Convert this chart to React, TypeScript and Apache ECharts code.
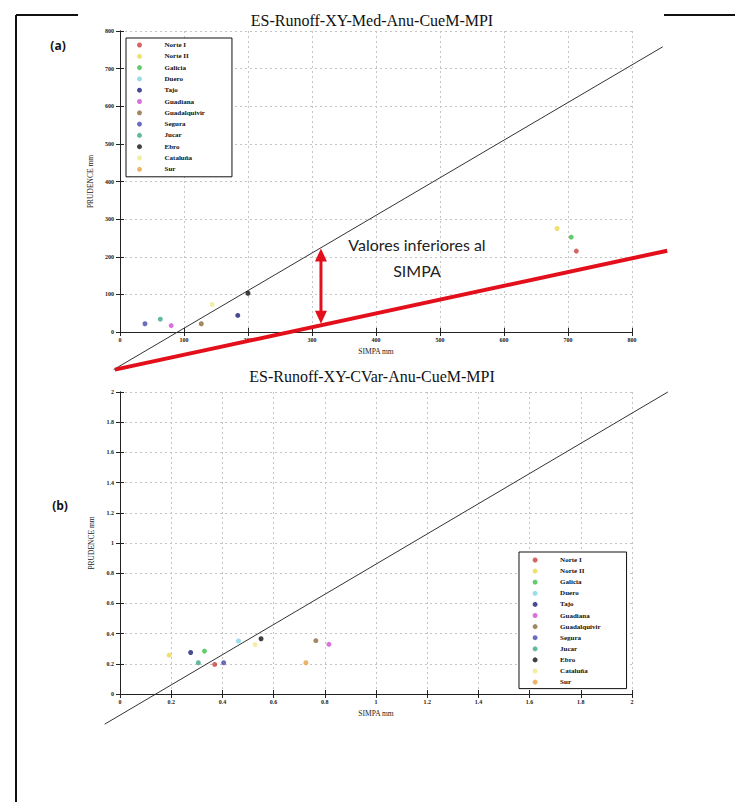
import React, { useEffect, useRef } from "react";
import * as echarts from "echarts";

// Basins (legend order)
const basins = [
  "Norte I", "Norte II", "Galicia", "Duero", "Tajo", "Guadiana",
  "Guadalquivir", "Segura", "Jucar", "Ebro", "Cataluña", "Sur",
];
const basinColors = [
  "#c8403c", "#ecd84a", "#3cbf4a", "#7fd3e6", "#1e1e78", "#d050d0",
  "#8a6a3a", "#4848b0", "#3aa88a", "#111111", "#f0ea90", "#e8a040",
];

// (a) mean annual runoff, mm  (null = not visible in the figure)
const medSimpa = [713, 683, 705, null, 184, 80, 127, 39, 63, 200, 144, null];
const medPrudence = [215, 275, 252, null, 44, 17, 22, 22, 34, 103, 73, null];

// (b) coefficient of variation of annual runoff
const cvSimpa = [0.37, 0.192, 0.33, 0.463, 0.276, 0.816, 0.765, 0.405, 0.306, 0.551, 0.528, 0.726];
const cvPrudence = [0.196, 0.257, 0.284, 0.351, 0.275, 0.329, 0.353, 0.207, 0.207, 0.366, 0.327, 0.207];

// axis ranges [min, max, interval]
const medRange = [0, 800, 100];
const cvRange = [0, 2, 0.2];

// reference lines (data coordinates: [x, y] start, [x, y] end)
const medRefLine = [[-10, -100], [848, 758]];
const medLowLine = [[-8, -100], [855, 216]];
const medGapArrow = [[314, 222], [314, 22]];
const cvRefLine = [[-0.06, -0.2], [2.14, 2.0]];

const titleA = "ES-Runoff-XY-Med-Anu-CueM-MPI";
const titleB = "ES-Runoff-XY-CVar-Anu-CueM-MPI";
const xName = "SIMPA mm";
const yName = "PRUDENCE mm";
const noteLines = ["Valores inferiores al", "SIMPA"];

const SERIF = "Liberation Serif";
const RED = "#e3101c";

function mainAxis(gridIndex: number, range: number[], pos: string, isX: boolean) {
  return {
    type: "value",
    gridIndex,
    position: pos,
    min: range[0],
    max: range[1],
    interval: range[2],
    name: isX ? xName : yName,
    nameLocation: "middle",
    nameGap: isX ? 15 : 17,
    nameTextStyle: { fontFamily: SERIF, fontSize: 7.5, color: "#222" },
    axisLine: { show: true, lineStyle: { color: "#222", width: 1 } },
    axisTick: { show: true, inside: true, length: 4, lineStyle: { color: "#222" } },
    axisLabel: {
      show: true,
      fontFamily: SERIF,
      fontSize: 6,
      fontWeight: "bold",
      color: "#222",
      margin: isX ? 5 : 6,
    },
    splitLine: { show: true, lineStyle: { color: "#c4c4c4", type: [2, 3], width: 1 } },
  };
}

function boxAxis(gridIndex: number, range: number[], pos: string) {
  return {
    type: "value",
    gridIndex,
    position: pos,
    min: range[0],
    max: range[1],
    interval: range[2],
    axisLine: { show: true, lineStyle: { color: "#222", width: 1 } },
    axisTick: { show: true, inside: true, length: 4, lineStyle: { color: "#222" } },
    axisLabel: { show: false },
    splitLine: { show: false },
  };
}

function legendFor(left: number, top: number, padding: number[], gap: number) {
  return {
    data: basins,
    orient: "vertical",
    left,
    top,
    itemWidth: 40,
    itemHeight: 5,
    itemGap: gap,
    padding,
    selectedMode: false,
    borderColor: "#111",
    borderWidth: 1,
    backgroundColor: "#fff",
    textStyle: { fontFamily: SERIF, fontSize: 7, fontWeight: "bold", color: "#111", lineHeight: 9 },
  };
}

// straight segment drawn through the axes' scales, not clipped to the plot
function segmentSeries(xi: number, yi: number, seg: number[][], color: string, width: number, z: number) {
  return {
    type: "custom",
    xAxisIndex: xi,
    yAxisIndex: yi,
    clip: false,
    silent: true,
    z,
    encode: { x: [0, 2], y: [1, 3] },
    data: [[seg[0][0], seg[0][1], seg[1][0], seg[1][1]]],
    renderItem: (_p: any, api: any) => {
      const a = api.coord([api.value(0), api.value(1)]);
      const b = api.coord([api.value(2), api.value(3)]);
      return {
        type: "line",
        shape: { x1: a[0], y1: a[1], x2: b[0], y2: b[1] },
        style: { stroke: color, lineWidth: width, fill: null },
      };
    },
  };
}

function arrowSeries(xi: number, yi: number, seg: number[][]) {
  return {
    type: "custom",
    xAxisIndex: xi,
    yAxisIndex: yi,
    clip: false,
    silent: true,
    z: 6,
    encode: { x: [0, 2], y: [1, 3] },
    data: [[seg[0][0], seg[0][1], seg[1][0], seg[1][1]]],
    renderItem: (_p: any, api: any) => {
      const a = api.coord([api.value(0), api.value(1)]);
      const b = api.coord([api.value(2), api.value(3)]);
      const dx = b[0] - a[0];
      const dy = b[1] - a[1];
      const len = Math.hypot(dx, dy) || 1;
      const ux = dx / len;
      const uy = dy / len;
      const px = -uy;
      const py = ux;
      const hl = 13;
      const hw = 6;
      return {
        type: "group",
        children: [
          {
            type: "line",
            shape: { x1: a[0] + ux * hl * 0.7, y1: a[1] + uy * hl * 0.7, x2: b[0] - ux * hl * 0.7, y2: b[1] - uy * hl * 0.7 },
            style: { stroke: RED, lineWidth: 3 },
          },
          {
            type: "polygon",
            shape: {
              points: [
                [a[0], a[1]],
                [a[0] + ux * hl + px * hw, a[1] + uy * hl + py * hw],
                [a[0] + ux * hl - px * hw, a[1] + uy * hl - py * hw],
              ],
            },
            style: { fill: RED },
          },
          {
            type: "polygon",
            shape: {
              points: [
                [b[0], b[1]],
                [b[0] - ux * hl + px * hw, b[1] - uy * hl + py * hw],
                [b[0] - ux * hl - px * hw, b[1] - uy * hl - py * hw],
              ],
            },
            style: { fill: RED },
          },
        ],
      };
    },
  };
}

export default function App() {
  const ref = useRef<HTMLDivElement>(null);

  useEffect(() => {
    if (!ref.current) return;
    const chart = echarts.init(ref.current, null, { renderer: "svg" });

    const scatterA = basins.map((name, i) => ({
      name,
      type: "scatter",
      xAxisIndex: 0,
      yAxisIndex: 0,
      symbol: "circle",
      symbolSize: 5,
      itemStyle: { color: basinColors[i] },
      data: medSimpa[i] == null ? [] : [[medSimpa[i], medPrudence[i]]],
      z: 5,
    }));
    const scatterB = basins.map((name, i) => ({
      name,
      type: "scatter",
      xAxisIndex: 2,
      yAxisIndex: 2,
      symbol: "circle",
      symbolSize: 5,
      itemStyle: { color: basinColors[i] },
      data: [[cvSimpa[i], cvPrudence[i]]],
      z: 5,
    }));

    const option: any = {
      animation: false,
      backgroundColor: "#fff",
      grid: [
        { left: 120, top: 31, width: 512, height: 301 },
        { left: 120, top: 392, width: 512, height: 302 },
      ],
      xAxis: [
        mainAxis(0, medRange, "bottom", true),
        boxAxis(0, medRange, "top"),
        mainAxis(1, cvRange, "bottom", true),
        boxAxis(1, cvRange, "top"),
      ],
      yAxis: [
        mainAxis(0, medRange, "left", false),
        boxAxis(0, medRange, "right"),
        mainAxis(1, cvRange, "left", false),
        boxAxis(1, cvRange, "right"),
      ],
      legend: [
        legendFor(126, 38, [2.5, 27, 3, 11], 2.3),
        legendFor(519, 552, [3.5, 26, 2, 13.6], 2.1),
      ],
      series: [
        segmentSeries(0, 0, medRefLine, "#333", 1, 3),
        segmentSeries(0, 0, medLowLine, RED, 4, 4),
        arrowSeries(0, 0, medGapArrow),
        segmentSeries(2, 2, cvRefLine, "#333", 1, 3),
        ...scatterA,
        ...scatterB,
      ],
      graphic: [
        { type: "line", shape: { x1: 16, y1: 15, x2: 16, y2: 802 }, style: { stroke: "#111", lineWidth: 2 } },
        { type: "line", shape: { x1: 16, y1: 15, x2: 78, y2: 15 }, style: { stroke: "#111", lineWidth: 2 } },
        { type: "line", shape: { x1: 664, y1: 15, x2: 735, y2: 15 }, style: { stroke: "#111", lineWidth: 2 } },
        {
          type: "text", x: 372, y: 20,
          style: { text: titleA, fill: "#111", font: `16px "${SERIF}"`, textAlign: "center", textVerticalAlign: "middle" },
        },
        {
          type: "text", x: 372, y: 376,
          style: { text: titleB, fill: "#111", font: `16px "${SERIF}"`, textAlign: "center", textVerticalAlign: "middle" },
        },
        {
          type: "text", x: 58, y: 45,
          style: { text: "(a)", fill: "#111", font: `bold 12px "Open Sans"`, textAlign: "center", textVerticalAlign: "middle" },
        },
        {
          type: "text", x: 60, y: 505,
          style: { text: "(b)", fill: "#111", font: `bold 12px "Open Sans"`, textAlign: "center", textVerticalAlign: "middle" },
        },
        {
          type: "text", x: 417, y: 244, z: 10,
          style: { text: noteLines[0], fill: "#222", font: `16px "Lato"`, textAlign: "center", textVerticalAlign: "middle" },
        },
        {
          type: "text", x: 417, y: 270, z: 10,
          style: { text: noteLines[1], fill: "#222", font: `16px "Lato"`, textAlign: "center", textVerticalAlign: "middle" },
        },
      ],
    };

    chart.setOption(option);
    return () => chart.dispose();
  }, []);

  return (
    <div
      ref={ref}
      style={{ position: "absolute", left: 0, top: 0, width: 735, height: 802, background: "#fff" }}
    />
  );
}
